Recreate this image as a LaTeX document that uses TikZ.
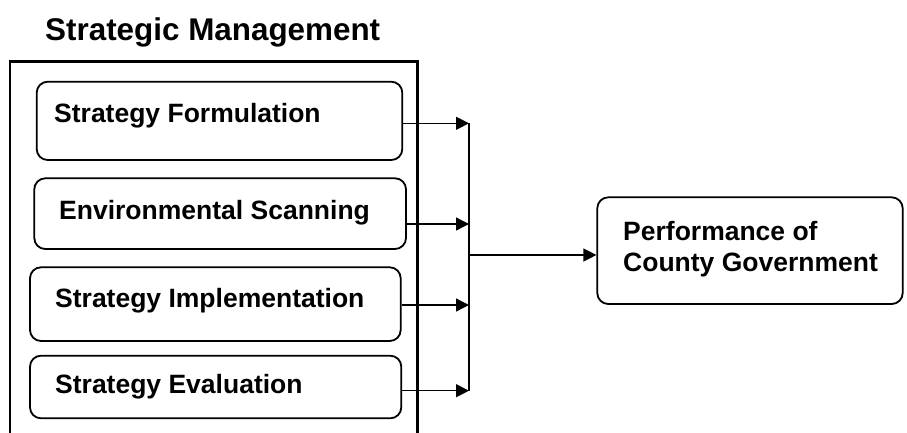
\documentclass[tikz,border=0pt]{standalone}
\usepackage{fontspec}
\setmainfont{Liberation Sans}
\usetikzlibrary{arrows.meta}

\tikzset{
  stagebox/.style={draw, line width=1.8pt, rounded corners=11pt, inner sep=0pt,
                   minimum width=#1},
  label/.style={anchor=base west, inner sep=0pt, font=\fontsize{26.5}{32}\bfseries\selectfont},
  feed/.style={line width=1.3pt, -{Triangle[length=13pt, width=13pt]}},
  bus/.style={line width=2pt},
}

\begin{document}
\begin{tikzpicture}[x=1pt, y=-1pt]
  \useasboundingbox (0,0) rectangle (907,432);

  % heading and enclosing frame (open at the bottom edge)
  \node[anchor=base west, inner sep=0pt, font=\fontsize{31.4}{36}\bfseries\selectfont]
    (title) at (45,40.5) {Strategic Management};
  \draw[line width=2.6pt] (10,440) -- (10,61.7) -- (417.7,61.7) -- (417.7,440);

  % the four strategic management stages
  \node[stagebox=365.6pt, minimum height=78.3pt] (b1) at (219.5,120.85) {};
  \node[stagebox=371.7pt, minimum height=70.7pt] (b2) at (220.15,213.65) {};
  \node[stagebox=370.7pt, minimum height=73.7pt] (b3) at (215.35,304.15) {};
  \node[stagebox=371.3pt, minimum height=62.6pt] (b4) at (215.65,387) {};

  \node[label] (t1) at (54,122) {Strategy Formulation};
  \node[label] (t2) at (59,219) {Environmental Scanning};
  \node[label] (t3) at (55,307) {Strategy Implementation};
  \node[label] (t4) at (55,393.5) {Strategy Evaluation};

  % outcome
  \node[stagebox=305.4pt, minimum height=106.7pt] (perf) at (750,250.65) {};
  \node[label] (p1) at (623,240.5) {Performance of};
  \node[label] (p2) at (623,271.5) {County Government};

  % collecting bus
  \coordinate (c1) at (469,123.3);
  \coordinate (c2) at (469,224);
  \coordinate (c3) at (469,305);
  \coordinate (c4) at (469,390.7);
  \coordinate (cout) at (469,255);

  \draw[feed] (b1.east |- c1) -- (c1);
  \draw[feed] (b2.east |- c2) -- (c2);
  \draw[feed] (b3.east |- c3) -- (c3);
  \draw[feed] (b4.east |- c4) -- (c4);
  \draw[bus] (c1) -- (c4);
  \draw[feed] (cout) -- (perf.west |- cout);
\end{tikzpicture}
\end{document}
